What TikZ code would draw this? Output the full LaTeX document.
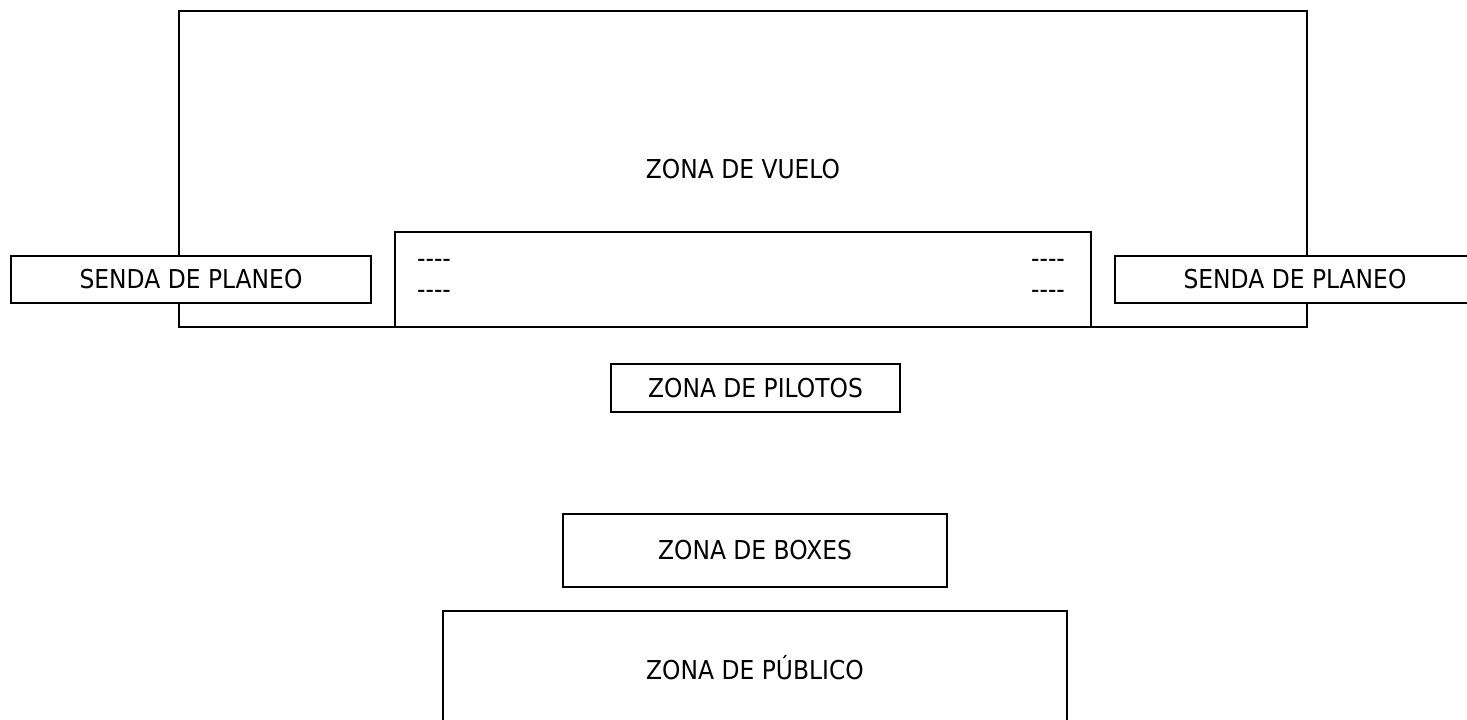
\documentclass[tikz,border=0pt]{standalone}
\usepackage{fontspec}
\setmainfont{DejaVu Sans}[FakeStretch=0.9]
\usetikzlibrary{positioning}
\newcommand{\guiones}{\mbox{-}\mbox{-}\mbox{-}\mbox{-}}

\begin{document}
\begin{tikzpicture}[x=1pt, y=-1pt,
    font=\fontsize{26}{30}\selectfont,
    zona/.style={draw, line width=1.8pt, inner sep=0pt, fill=white},
    guion/.style={inner sep=0pt}]
    \useasboundingbox (0,0) rectangle (1467,720);

    % Zona de vuelo con las sendas
    \node[zona, minimum width=1128pt, minimum height=316pt] (vuelo) at (743,169) {ZONA DE VUELO};
    \node[zona, minimum width=360pt, minimum height=47pt] (sendaIzq) at (191,279.5) {SENDA DE PLANEO};
    \node[zona, minimum width=360pt, minimum height=47pt] (sendaDer) at (1295,279.5) {SENDA DE PLANEO};
    \node[zona, minimum width=696pt, minimum height=95pt] (pista) at (743,279.5) {};

    % Marcas en la pista
    \node[guion] (marcaA) at (434,263) {\guiones};
    \node[guion] (marcaB) at (434,294) {\guiones};
    \node[guion] (marcaC) at (1048,263) {\guiones};
    \node[guion] (marcaD) at (1048,294) {\guiones};

    % Zonas de tierra
    \node[zona, minimum width=289pt, minimum height=48pt] (pilotos) at (755.5,388) {ZONA DE PILOTOS};
    \node[zona, minimum width=384pt, minimum height=73pt] (boxes) at (755,550.5) {ZONA DE BOXES};
    \node[zona, minimum width=624pt, minimum height=114pt] (publico) at (755,668) {ZONA DE PÚBLICO};
\end{tikzpicture}
\end{document}
